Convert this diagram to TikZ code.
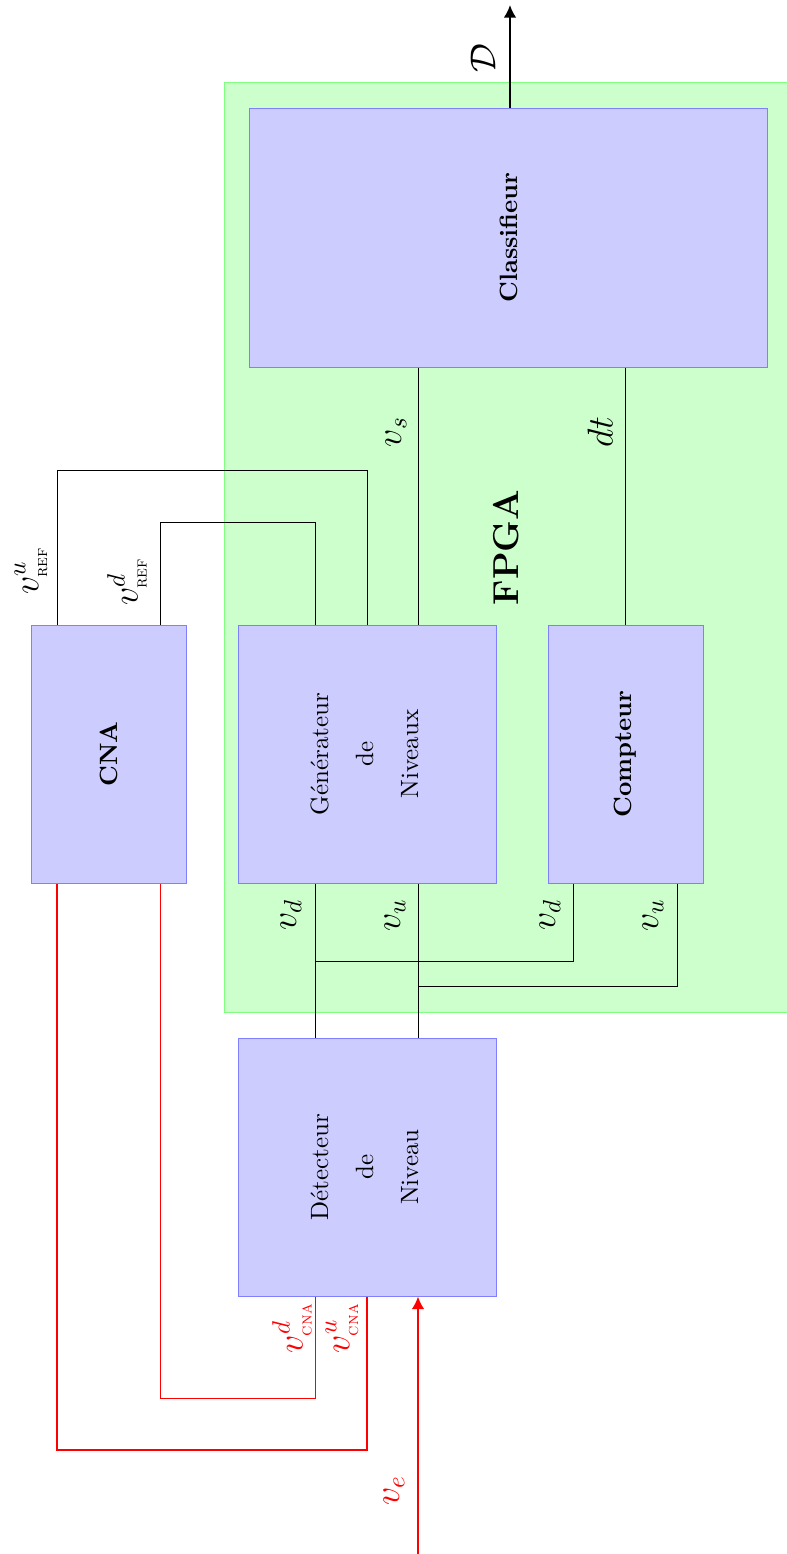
\documentclass[tikz,border=0pt]{standalone}
\usepackage{fontspec}
\usetikzlibrary{arrows.meta}
\newcommand{\tinysc}[1]{\mbox{\fontsize{7}{7}\selectfont\textsc{#1}}}
\begin{document}
\begin{tikzpicture}[x=0.4pt,y=-0.4pt,
  blk/.style={draw=blue!50, fill=blue!20, inner sep=0pt, minimum height=103.2pt},
  zone/.style={draw=green!50, fill=green!20, inner sep=0pt},
  lbl/.style={rotate=90, inner sep=0pt, font=\Large},
  wire/.style={draw=black, line width=0.4pt},
  sig/.style={draw=red, line width=0.8pt},
  sigthin/.style={draw=red, line width=0.4pt},
  tip/.style={-{Latex[length=5pt,width=5pt]}}
]
\useasboundingbox (0,0) rectangle (787,1554);
% zone FPGA
\node[zone, minimum width=224.8pt, minimum height=371.6pt] (fpga) at (506,547.5) {\rotatebox{90}{\Large\bfseries FPGA}};
% blocs
\node[blk, minimum width=206.8pt, minimum height=103.6pt] (cls) at (508.5,237.5) {\rotatebox{90}{\bfseries Classifieur}};
\node[blk, minimum width=61.6pt] (cna) at (109,754) {\rotatebox{90}{\bfseries CNA}};
\node[blk, minimum width=103.2pt] (gen) at (367,754) {\rotatebox{90}{\begin{tabular}{@{}c@{}}Générateur\\[6pt]de\\[6pt]Niveaux\end{tabular}}};
\node[blk, minimum width=62pt] (cpt) at (625.5,754) {\rotatebox{90}{\bfseries Compteur}};
\node[blk, minimum width=103.2pt] (det) at (367,1167) {\rotatebox{90}{\begin{tabular}{@{}c@{}}Détecteur\\[6pt]de\\[6pt]Niveau\end{tabular}}};
% colonnes et rangees
\coordinate (xA) at (57,0);
\coordinate (xB) at (160,0);
\coordinate (xC) at (315,0);
\coordinate (xD) at (367,0);
\coordinate (xE) at (418,0);
\coordinate (xF) at (510,0);
\coordinate (xG) at (573,0);
\coordinate (xH) at (625,0);
\coordinate (xI) at (677,0);
\coordinate (yR1) at (0,470);
\coordinate (yR2) at (0,522);
\coordinate (yR3) at (0,961);
\coordinate (yR4) at (0,986);
\coordinate (yR5) at (0,1398);
\coordinate (yR6) at (0,1450);
% liaisons
\draw[wire] (cls.south -| xE) -- (gen.north -| xE);
\draw[wire] (cls.south -| xH) -- (cpt.north -| xH);
\draw[wire] (cna.north -| xA) -- (xA |- yR1) -- (xD |- yR1) -- (gen.north -| xD);
\draw[wire] (cna.north -| xB) -- (xB |- yR2) -- (xC |- yR2) -- (gen.north -| xC);
\draw[wire] (gen.south -| xC) -- (det.north -| xC);
\draw[wire] (gen.south -| xE) -- (det.north -| xE);
\draw[wire] (cpt.south -| xG) -- (xG |- yR3) -- (xC |- yR3);
\draw[wire] (cpt.south -| xI) -- (xI |- yR4) -- (xE |- yR4);
\draw[sig] (det.south -| xD) -- (xD |- yR6) -- (xA |- yR6) -- (cna.south -| xA);
\draw[sigthin] (det.south -| xC) -- (xC |- yR5) -- (xB |- yR5) -- (cna.south -| xB);
\coordinate (ve) at (418,1554);
\draw[sig, tip] (ve) -- (det.south -| xE);
\coordinate (Dout) at (510,5);
\draw[wire, line width=0.8pt, tip] (cls.north -| xF) -- (Dout);
% etiquettes
\node[lbl] (lD) at (483,58) {$\mathcal{D}$};
\node[lbl] (lvs) at (396,432) {$v_s$};
\node[lbl] (ldt) at (600,432) {$dt$};
\node[lbl] (lru) at (31,571) {$v^u_{\tinysc{ref}}$};
\node[lbl] (lrd) at (127,582) {$v^d_{\tinysc{ref}}$};
\node[lbl] (lgd) at (291,915) {$v_d$};
\node[lbl] (lgu) at (395,915) {$v_u$};
\node[lbl] (lcd) at (550,915) {$v_d$};
\node[lbl] (lcu) at (653,915) {$v_u$};
\node[lbl, red] (lnd) at (292,1328) {$v^d_{\tinysc{cna}}$};
\node[lbl, red] (lnu) at (342,1328) {$v^u_{\tinysc{cna}}$};
\node[lbl, red] (lve) at (394,1491) {$v_e$};
\end{tikzpicture}
\end{document}
